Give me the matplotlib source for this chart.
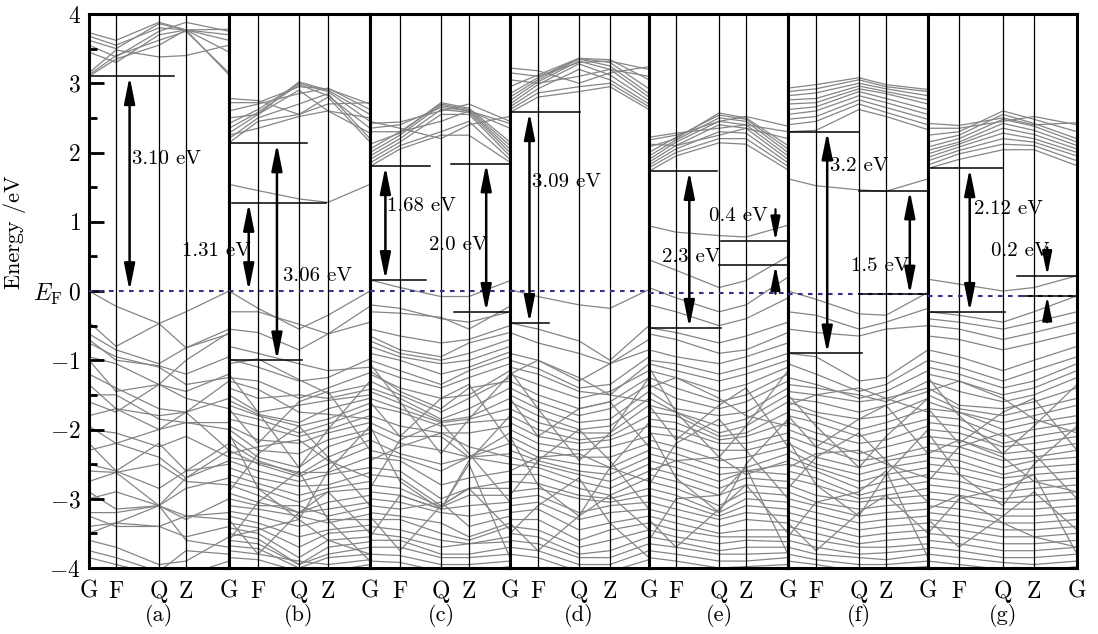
import matplotlib
matplotlib.use('Agg')

import matplotlib.pyplot as plt

plt.rcParams['font.family'] = ['cmr10', 'DejaVu Serif']
plt.rcParams['mathtext.fontset'] = 'cm'
plt.rcParams['axes.unicode_minus'] = False

# ---- data: band energies (eV) at G F Q Z G for each panel ----
panel_names = ['(a)', '(b)', '(c)', '(d)', '(e)', '(f)', '(g)']
kpoint_labels = ['G', 'F', 'Q', 'Z', 'G']
kpath = [
    [0, 0.193, 0.500, 0.693, 1],
    [0, 0.206, 0.496, 0.702, 1],
    [0, 0.214, 0.507, 0.707, 1],
    [0, 0.201, 0.496, 0.719, 1],
    [0, 0.194, 0.504, 0.698, 1],
    [0, 0.200, 0.507, 0.700, 1],
    [0, 0.208, 0.503, 0.711, 1],
]
fermi_level = [0.0, 0.0, 0.0, 0.0, -0.03, -0.05, -0.07]

bands_a = [
    [3.10, 3.35, 3.55, 3.77, 3.12], [3.12, 3.40, 3.62, 3.75, 3.15],
    [3.15, 3.48, 3.38, 3.40, 3.55], [3.62, 3.50, 3.86, 3.77, 3.62],
    [3.68, 3.55, 3.80, 3.77, 3.70], [3.73, 3.62, 3.88, 3.77, 3.78],
    [3.45, 3.30, 3.70, 3.77, 3.45], [3.55, 3.38, 3.75, 3.88, 3.75],
    [0.00, -0.22, -0.47, -0.30, 0.00], [-0.45, -0.80, -0.47, -0.82, -0.62],
    [-0.62, -0.85, -1.05, -0.82, -0.55], [-0.70, -1.00, -1.08, -1.20, -0.95],
    [-0.95, -1.05, -1.35, -1.00, -0.60], [-1.00, -1.45, -1.35, -1.45, -1.20],
    [-1.20, -1.40, -1.70, -1.75, -1.30], [-1.35, -1.70, -1.80, -1.75, -1.55],
    [-1.50, -1.50, -1.85, -1.90, -1.90], [-1.80, -1.70, -2.00, -1.75, -2.30],
    [-1.95, -2.20, -2.00, -1.90, -2.00], [-2.00, -2.05, -2.25, -2.10, -2.40],
    [-2.30, -2.20, -2.40, -2.70, -2.30], [-2.50, -2.60, -2.85, -2.60, -2.20],
    [-2.60, -2.62, -2.50, -2.75, -2.80], [-2.75, -2.62, -3.10, -2.70, -2.45],
    [-3.00, -2.90, -3.10, -3.30, -3.00], [-3.20, -3.20, -3.10, -3.25, -3.30],
    [-3.25, -3.40, -3.40, -3.55, -3.40], [-3.50, -3.35, -3.10, -3.60, -3.70],
    [-3.60, -3.70, -3.95, -3.90, -3.55], [-3.75, -3.85, -4.05, -3.75, -3.80],
    [-3.85, -3.95, -4.10, -4.10, -3.90], [-2.20, -2.60, -2.20, -2.60, -2.50],
    [-1.60, -1.75, -1.35, -1.55, -1.70], [-3.40, -3.35, -3.40, -3.25, -3.20],
    [-0.75, -0.95, -1.10, -1.35, -1.25], [-2.90, -3.15, -3.10, -2.85, -2.70],
]

bands_b = [
    [2.14, 2.45, 2.55, 2.80, 2.15], [2.20, 2.50, 2.70, 2.85, 2.20],
    [2.28, 2.55, 2.90, 2.60, 2.28], [2.35, 2.58, 2.98, 2.82, 2.35],
    [2.42, 2.62, 3.00, 2.88, 2.45], [2.50, 2.55, 3.02, 2.90, 2.55],
    [2.60, 2.70, 2.85, 2.93, 2.62], [2.72, 2.72, 2.95, 2.92, 2.70],
    [2.78, 2.75, 2.55, 2.70, 2.72], [2.25, 2.35, 2.52, 2.60, 2.50],
    [1.54, 1.45, 1.33, 1.28, 1.54],
    [0.00, -0.25, -0.55, -0.35, 0.00], [-0.30, -0.30, -0.48, -0.62, -0.22],
    [-0.55, -0.60, -0.85, -0.62, -0.45], [-0.80, -0.90, -1.05, -1.15, -1.10],
    [-0.98, -1.10, -1.30, -1.25, -0.98], [-1.05, -0.98, -1.28, -1.48, -1.35],
    [-1.25, -1.30, -1.55, -1.40, -1.18], [-1.30, -1.42, -1.75, -1.78, -1.85],
    [-1.40, -1.55, -1.50, -1.55, -1.42], [-1.50, -1.75, -1.65, -1.58, -1.50],
    [-1.58, -1.78, -1.90, -1.70, -1.55], [-1.65, -1.80, -1.95, -1.85, -1.62],
    [-1.75, -1.85, -2.05, -1.92, -1.70], [-1.85, -1.95, -2.10, -2.00, -1.80],
    [-1.95, -2.15, -2.20, -2.05, -1.90], [-2.00, -2.30, -2.35, -2.15, -2.00],
    [-2.10, -2.40, -2.55, -2.25, -2.05], [-2.20, -2.45, -2.65, -2.40, -2.15],
    [-2.30, -2.50, -2.68, -2.50, -2.25], [-2.35, -2.25, -2.15, -2.45, -2.70],
    [-2.40, -2.48, -2.62, -2.62, -2.40], [-2.45, -2.60, -2.75, -2.65, -2.55],
    [-2.55, -2.70, -2.82, -2.80, -2.62], [-2.65, -2.78, -2.95, -2.85, -2.75],
    [-2.75, -2.85, -3.05, -2.90, -2.85], [-2.80, -2.95, -3.20, -3.05, -2.95],
    [-2.92, -3.05, -3.20, -3.15, -3.05], [-3.00, -3.10, -3.10, -3.25, -3.12],
    [-3.10, -3.15, -3.25, -3.35, -3.22], [-3.18, -3.25, -3.40, -3.30, -3.30],
    [-3.25, -3.35, -3.55, -3.45, -3.38], [-3.35, -3.42, -3.70, -3.50, -3.45],
    [-3.42, -3.50, -3.85, -3.60, -3.55], [-3.50, -3.58, -3.95, -3.70, -3.62],
    [-3.55, -3.45, -3.30, -3.60, -3.80], [-3.60, -3.65, -3.95, -3.80, -3.70],
    [-3.68, -3.72, -4.00, -3.85, -3.80], [-3.75, -3.80, -3.90, -3.95, -3.88],
    [-3.85, -3.88, -4.05, -4.05, -3.95],
    [-1.20, -1.75, -2.55, -2.00, -1.30], [-2.90, -2.35, -1.95, -2.40, -3.10],
    [-3.60, -3.05, -2.60, -3.30, -3.90], [-2.05, -2.85, -3.30, -2.60, -1.95],
    [-1.70, -2.20, -1.60, -1.45, -2.30], [-3.30, -3.80, -3.20, -2.90, -3.50],
]

bands_c = [
    [1.80, 2.05, 2.25, 2.25, 1.86], [1.85, 2.10, 2.30, 2.45, 1.90],
    [1.90, 2.15, 2.55, 2.55, 1.95], [1.95, 2.20, 2.62, 2.58, 2.00],
    [2.00, 2.25, 2.68, 2.60, 2.05], [2.05, 2.30, 2.70, 2.62, 2.10],
    [2.12, 2.28, 2.72, 2.64, 2.15], [2.35, 2.40, 2.65, 2.60, 2.35],
    [2.42, 2.44, 2.60, 2.70, 2.45], [2.45, 2.35, 2.20, 2.40, 2.52],
    [2.30, 2.30, 2.45, 2.60, 2.42],
    [0.16, 0.05, -0.08, -0.08, 0.15], [-0.20, -0.25, -0.40, -0.45, -0.30],
    [-0.30, -0.32, -0.38, -0.55, -0.22], [-0.55, -0.65, -0.75, -0.70, -0.50],
    [-0.65, -0.85, -0.95, -0.75, -0.60], [-0.72, -0.90, -1.00, -0.90, -0.70],
    [-0.80, -0.95, -1.05, -1.00, -0.80], [-0.90, -1.00, -1.20, -1.10, -0.88],
    [-1.00, -1.15, -1.35, -1.15, -0.95], [-1.10, -1.25, -1.40, -1.25, -1.05],
    [-1.15, -1.45, -1.70, -1.40, -1.30], [-1.20, -1.40, -1.55, -1.50, -1.15],
    [-1.30, -1.50, -1.75, -1.55, -1.25], [-1.40, -1.55, -1.85, -1.70, -1.40],
    [-1.45, -1.62, -1.88, -1.82, -1.55], [-1.55, -1.70, -1.90, -1.85, -1.70],
    [-1.65, -1.75, -1.95, -1.90, -1.85], [-1.80, -1.95, -2.05, -2.05, -1.95],
    [-1.90, -2.10, -2.10, -2.40, -2.05], [-2.00, -2.20, -2.30, -2.40, -2.20],
    [-2.15, -2.35, -2.50, -2.40, -2.35], [-2.30, -2.40, -2.60, -2.40, -2.50],
    [-2.45, -2.25, -2.05, -2.25, -2.40], [-2.40, -2.45, -2.80, -2.70, -2.60],
    [-2.55, -2.60, -3.00, -2.85, -2.75], [-2.65, -2.70, -3.10, -2.85, -2.85],
    [-2.80, -2.85, -3.12, -2.95, -2.95], [-2.90, -2.95, -3.15, -3.10, -3.05],
    [-3.00, -3.05, -3.20, -3.25, -3.15], [-3.10, -3.15, -3.05, -3.40, -3.25],
    [-3.20, -3.25, -3.35, -3.55, -3.35], [-3.30, -3.30, -3.50, -3.60, -3.40],
    [-3.40, -3.45, -3.60, -3.65, -3.55], [-3.50, -3.55, -3.70, -3.65, -3.62],
    [-3.60, -3.60, -3.80, -3.80, -3.70], [-3.70, -3.70, -3.85, -3.85, -3.80],
    [-3.80, -3.82, -3.95, -3.95, -3.90], [-3.90, -3.92, -4.05, -4.05, -3.98],
    [-1.05, -1.60, -2.35, -1.85, -1.20], [-2.85, -2.15, -1.90, -2.35, -3.05],
    [-3.55, -2.95, -3.15, -2.50, -3.85], [-1.95, -2.75, -3.15, -2.45, -1.80],
    [-1.60, -2.10, -1.55, -1.35, -2.20], [-3.25, -3.75, -3.10, -2.85, -3.45],
]

bands_d = [
    [2.58, 2.80, 2.88, 2.95, 2.62], [2.62, 2.86, 2.95, 3.00, 2.66],
    [2.66, 2.92, 3.20, 3.05, 2.70], [2.70, 2.98, 3.28, 3.12, 2.75],
    [2.75, 3.02, 3.32, 3.20, 2.80], [2.80, 3.05, 3.35, 3.25, 2.85],
    [2.85, 3.08, 3.36, 3.30, 2.92], [2.95, 3.12, 3.36, 3.34, 3.05],
    [3.15, 3.10, 3.30, 3.32, 3.20], [3.22, 3.18, 3.00, 3.15, 3.24],
    [3.05, 3.00, 3.10, 3.20, 3.10],
    [0.02, -0.08, -0.20, -0.25, 0.02], [-0.46, -0.55, -0.72, -1.00, -0.50],
    [-0.60, -0.75, -0.90, -1.05, -0.70], [-0.90, -1.00, -1.30, -1.05, -0.85],
    [-1.00, -1.12, -1.40, -1.35, -0.95], [-1.10, -1.20, -1.45, -1.50, -1.05],
    [-1.20, -1.00, -1.25, -1.50, -1.60], [-1.20, -1.35, -1.55, -1.45, -1.15],
    [-1.30, -1.50, -1.70, -1.60, -1.25], [-1.40, -1.60, -1.80, -1.70, -1.35],
    [-1.50, -1.70, -1.90, -1.85, -1.45], [-1.60, -1.80, -2.00, -1.95, -1.55],
    [-1.70, -1.90, -2.05, -2.05, -1.65], [-1.80, -2.00, -2.15, -2.10, -1.80],
    [-1.90, -2.10, -2.20, -2.15, -1.95], [-2.00, -2.20, -2.30, -2.25, -2.10],
    [-2.10, -2.30, -2.40, -2.40, -2.20], [-2.20, -2.40, -2.50, -2.55, -2.30],
    [-2.30, -2.45, -2.60, -2.65, -2.40], [-2.40, -2.50, -2.65, -2.75, -2.50],
    [-2.50, -2.55, -2.75, -2.85, -2.60], [-2.60, -2.40, -2.35, -2.55, -2.75],
    [-2.65, -2.65, -2.85, -2.95, -2.70], [-2.75, -2.78, -2.95, -3.00, -2.85],
    [-2.90, -2.85, -3.00, -3.05, -2.95], [-3.00, -2.95, -3.20, -3.10, -3.05],
    [-3.10, -3.05, -3.30, -3.20, -3.15], [-3.20, -3.15, -3.45, -3.35, -3.25],
    [-3.30, -3.30, -3.60, -3.45, -3.35], [-3.40, -3.45, -3.70, -3.60, -3.45],
    [-3.50, -3.55, -3.80, -3.75, -3.55], [-3.60, -3.65, -3.85, -3.85, -3.65],
    [-3.70, -3.75, -3.95, -3.95, -3.75], [-3.80, -3.85, -4.05, -4.05, -3.88],
    [-1.15, -1.70, -2.45, -2.05, -1.25], [-2.95, -2.45, -2.00, -2.45, -3.15],
    [-3.50, -3.10, -2.70, -3.35, -3.85], [-2.10, -2.80, -3.25, -2.55, -1.90],
    [-1.55, -2.10, -1.70, -1.60, -2.25], [-3.35, -3.75, -3.25, -2.95, -3.45],
]

bands_e = [
    [1.73, 1.95, 2.14, 2.12, 1.75], [1.78, 2.00, 2.20, 2.20, 1.80],
    [1.82, 2.05, 2.30, 2.28, 1.85], [1.86, 2.10, 2.40, 2.35, 1.90],
    [1.90, 2.15, 2.45, 2.40, 1.95], [1.95, 2.18, 2.50, 2.45, 2.00],
    [2.00, 2.22, 2.54, 2.48, 2.05], [2.08, 2.20, 2.57, 2.50, 2.10],
    [2.18, 2.25, 2.45, 2.52, 2.38], [2.22, 2.28, 2.35, 2.40, 2.30],
    [2.12, 2.10, 2.25, 2.35, 2.20],
    [0.94, 0.85, 0.80, 0.78, 0.95], [0.45, 0.30, 0.05, 0.15, 0.50],
    [0.05, -0.10, -0.30, -0.20, 0.20], [-0.20, -0.30, -0.50, -0.40, -0.10],
    [-0.53, -0.60, -0.75, -0.65, -0.45], [-0.62, -0.70, -0.90, -0.85, -0.60],
    [-0.85, -0.95, -1.05, -0.95, -0.75], [-1.00, -1.05, -1.20, -1.10, -0.90],
    [-1.05, -1.15, -1.30, -1.20, -1.00], [-1.15, -1.25, -1.45, -1.35, -1.10],
    [-1.25, -1.40, -1.60, -1.50, -1.20], [-1.35, -1.55, -1.70, -1.60, -1.30],
    [-1.40, -1.25, -1.55, -1.80, -1.95], [-1.45, -1.70, -1.80, -1.75, -1.40],
    [-1.55, -1.75, -1.95, -1.85, -1.50], [-1.65, -1.75, -2.05, -1.95, -1.60],
    [-1.75, -1.80, -2.10, -2.05, -1.75], [-1.85, -1.90, -2.15, -2.10, -1.90],
    [-1.95, -2.00, -2.20, -2.20, -2.05], [-2.05, -2.10, -2.30, -2.30, -2.15],
    [-2.15, -2.25, -2.45, -2.40, -2.25], [-2.25, -2.35, -2.55, -2.55, -2.35],
    [-2.35, -2.45, -2.65, -2.60, -2.50], [-2.45, -2.55, -2.75, -2.60, -2.65],
    [-2.55, -2.65, -2.85, -2.70, -2.75], [-2.60, -2.45, -2.40, -2.65, -2.45],
    [-2.65, -2.75, -2.95, -2.80, -2.85], [-2.75, -2.85, -3.10, -2.90, -2.95],
    [-2.85, -2.95, -3.20, -3.00, -3.05], [-2.95, -3.05, -3.25, -3.10, -3.15],
    [-3.05, -3.15, -3.30, -3.20, -3.25], [-3.15, -3.25, -3.40, -3.30, -3.35],
    [-3.25, -3.35, -3.50, -3.45, -3.45], [-3.35, -3.45, -3.55, -3.55, -3.55],
    [-3.45, -3.55, -3.65, -3.60, -3.62], [-3.55, -3.62, -3.75, -3.70, -3.70],
    [-3.65, -3.70, -3.80, -3.80, -3.78], [-3.75, -3.80, -3.90, -3.90, -3.85],
    [-3.85, -3.90, -4.00, -3.98, -3.95],
    [-1.10, -1.75, -2.40, -1.95, -1.15], [-2.80, -2.20, -1.85, -2.30, -3.00],
    [-3.60, -3.00, -2.95, -2.55, -3.80], [-2.00, -2.70, -3.20, -2.50, -1.85],
    [-1.65, -2.15, -1.65, -1.40, -2.25], [-3.30, -3.70, -3.15, -2.80, -3.50],
]

bands_f = [
    [2.30, 2.32, 2.62, 2.52, 2.33], [2.40, 2.45, 2.70, 2.58, 2.40],
    [2.48, 2.52, 2.76, 2.65, 2.48], [2.55, 2.60, 2.82, 2.72, 2.55],
    [2.62, 2.66, 2.88, 2.78, 2.62], [2.70, 2.72, 2.92, 2.85, 2.70],
    [2.76, 2.78, 2.96, 2.88, 2.76], [2.82, 2.86, 3.00, 2.92, 2.82],
    [2.88, 2.92, 3.05, 2.95, 2.88], [2.93, 2.98, 3.08, 2.98, 2.91],
    [1.62, 1.52, 1.46, 1.44, 1.62],
    [0.00, -0.12, -0.33, -0.35, -0.02], [-0.30, -0.35, -0.55, -0.45, -0.25],
    [-0.55, -0.60, -0.65, -0.55, -0.50], [-0.90, -0.95, -1.30, -1.25, -0.85],
    [-1.05, -1.20, -1.45, -1.35, -1.00], [-1.25, -1.35, -1.55, -1.45, -1.15],
    [-1.35, -1.40, -1.50, -1.60, -1.30], [-1.45, -1.50, -1.60, -1.55, -1.40],
    [-1.55, -1.60, -1.75, -1.65, -1.45], [-1.60, -1.75, -1.85, -1.80, -1.55],
    [-1.65, -1.50, -1.40, -1.55, -1.75], [-1.70, -1.80, -2.00, -1.90, -1.70],
    [-1.80, -1.90, -2.10, -2.00, -1.85], [-1.90, -2.05, -2.20, -2.15, -1.95],
    [-2.00, -2.15, -2.35, -2.25, -2.10], [-2.10, -2.25, -2.45, -2.40, -2.25],
    [-2.20, -2.40, -2.55, -2.45, -2.35], [-2.30, -2.50, -2.65, -2.55, -2.45],
    [-2.40, -2.55, -2.75, -2.65, -2.55], [-2.50, -2.60, -2.85, -2.75, -2.65],
    [-2.55, -2.35, -2.30, -2.50, -2.70], [-2.60, -2.70, -2.95, -2.85, -2.75],
    [-2.70, -2.80, -3.00, -2.95, -2.85], [-2.80, -2.95, -3.05, -3.00, -2.95],
    [-2.90, -3.05, -3.15, -3.10, -3.05], [-3.00, -3.10, -3.25, -3.20, -3.15],
    [-3.10, -3.20, -3.35, -3.30, -3.25], [-3.20, -3.30, -3.45, -3.40, -3.35],
    [-3.30, -3.40, -3.55, -3.50, -3.45], [-3.40, -3.50, -3.65, -3.60, -3.55],
    [-3.50, -3.60, -3.70, -3.70, -3.65], [-3.60, -3.70, -3.80, -3.78, -3.72],
    [-3.70, -3.80, -3.85, -3.88, -3.80], [-3.80, -3.88, -3.95, -3.95, -3.90],
    [-3.90, -3.95, -4.05, -4.02, -3.98],
    [-1.50, -1.95, -2.55, -2.10, -1.55], [-2.85, -2.40, -2.05, -2.45, -3.05],
    [-3.55, -3.05, -2.90, -2.60, -3.85], [-2.15, -2.80, -3.25, -2.65, -2.00],
    [-1.80, -2.25, -1.85, -1.65, -2.35], [-3.35, -3.75, -3.20, -2.95, -3.50],
]

bands_g = [
    [1.77, 1.90, 2.04, 2.04, 1.81], [1.82, 1.98, 2.12, 2.10, 1.88],
    [1.88, 2.03, 2.20, 2.15, 1.95], [1.93, 2.08, 2.28, 2.20, 2.00],
    [1.98, 2.12, 2.35, 2.26, 2.05], [2.03, 2.15, 2.42, 2.32, 2.10],
    [2.08, 2.20, 2.48, 2.38, 2.15], [2.15, 2.25, 2.55, 2.42, 2.20],
    [2.25, 2.30, 2.60, 2.48, 2.30], [2.35, 2.35, 2.45, 2.52, 2.40],
    [2.42, 2.39, 2.50, 2.40, 2.43],
    [0.17, 0.10, 0.00, 0.05, 0.22],
    [-0.30, -0.35, -0.45, -0.30, -0.07], [-0.40, -0.45, -0.55, -0.45, -0.30],
    [-0.50, -0.55, -0.70, -0.60, -0.45], [-0.65, -0.70, -0.85, -0.75, -0.60],
    [-0.85, -0.95, -1.15, -1.00, -0.80], [-1.00, -1.10, -1.30, -1.15, -0.95],
    [-1.10, -1.20, -1.40, -1.30, -1.05], [-1.20, -1.30, -1.50, -1.40, -1.15],
    [-1.30, -1.45, -1.60, -1.50, -1.25], [-1.40, -1.65, -1.70, -1.60, -1.40],
    [-1.45, -1.30, -1.55, -1.85, -2.05], [-1.50, -1.70, -1.80, -1.70, -1.55],
    [-1.60, -1.75, -1.90, -1.80, -1.65], [-1.70, -1.75, -2.00, -1.90, -1.80],
    [-1.80, -1.85, -2.10, -2.00, -1.90], [-1.90, -1.95, -2.20, -2.10, -2.00],
    [-2.00, -2.05, -2.25, -2.20, -2.10], [-2.10, -2.15, -2.35, -2.30, -2.20],
    [-2.20, -2.25, -2.45, -2.40, -2.30], [-2.30, -2.35, -2.55, -2.45, -2.40],
    [-2.35, -2.15, -2.40, -2.75, -2.90], [-2.40, -2.45, -2.65, -2.55, -2.50],
    [-2.50, -2.55, -2.70, -2.65, -2.60], [-2.60, -2.65, -2.80, -2.75, -2.70],
    [-2.70, -2.75, -2.90, -2.85, -2.80], [-2.80, -2.85, -3.00, -2.95, -2.90],
    [-2.90, -2.95, -3.05, -3.05, -3.00], [-3.00, -3.05, -3.15, -3.15, -3.10],
    [-3.10, -3.15, -3.25, -3.25, -3.20], [-3.15, -2.95, -3.35, -3.55, -3.70],
    [-3.20, -3.25, -3.35, -3.35, -3.30], [-3.30, -3.35, -3.45, -3.45, -3.40],
    [-3.40, -3.45, -3.55, -3.55, -3.50], [-3.50, -3.55, -3.65, -3.65, -3.60],
    [-3.60, -3.65, -3.75, -3.75, -3.70], [-3.70, -3.75, -3.85, -3.85, -3.80],
    [-3.80, -3.85, -3.92, -3.95, -3.90], [-3.90, -3.95, -4.02, -4.05, -3.98],
    [-1.25, -1.80, -2.35, -1.95, -1.35], [-2.75, -2.25, -2.05, -2.35, -3.00],
    [-3.50, -3.00, -2.85, -2.65, -3.80], [-2.05, -2.65, -3.10, -2.50, -1.95],
    [-1.70, -2.20, -1.75, -1.55, -2.30], [-3.30, -3.70, -3.25, -2.90, -3.45],
]

all_bands = [bands_a, bands_b, bands_c, bands_d, bands_e, bands_f, bands_g]

# gap markers: horizontal lines (x0, x1, E), double arrows (x, E_top, E_bottom),
# single arrows (x, E_from, E_to) and labels (x, E, text), x as fraction of panel
gap_lines = [
    [(0, 0.61, 3.10)],
    [(0, 0.55, 2.13), (0.02, 0.69, 1.27), (0, 0.52, -1.00)],
    [(0, 0.43, 1.80), (0, 0.40, 0.16), (0.58, 1.03, 1.84), (0.60, 1.0, -0.30)],
    [(0, 0.50, 2.58), (0, 0.28, -0.46)],
    [(0, 0.49, 1.73), (0, 0.52, -0.53), (0.52, 1.0, 0.72), (0.50, 1.0, 0.37)],
    [(0, 0.51, 2.30), (0, 0.53, -0.90), (0.51, 1.0, 1.45), (0.51, 1.0, -0.05)],
    [(0, 0.50, 1.77), (0, 0.52, -0.30), (0.60, 1.0, 0.22), (0.64, 0.99, -0.07)],
]
gap_arrows = [
    [(0.29, 3.10, 0.0)],
    [(0.14, 1.27, 0.0), (0.34, 2.13, -1.00)],
    [(0.11, 1.80, 0.16), (0.83, 1.84, -0.30)],
    [(0.14, 2.58, -0.46)],
    [(0.29, 1.73, -0.53)],
    [(0.28, 2.30, -0.90), (0.87, 1.45, -0.05)],
    [(0.28, 1.77, -0.30)],
]
gap_pointers = [
    [], [], [], [],
    [(0.91, 1.18, 0.72), (0.91, -0.04, 0.37)],
    [],
    [(0.80, 0.63, 0.22), (0.80, -0.45, -0.07)],
]
gap_labels = [
    [(0.31, 1.90, '3.10 eV')],
    [(-0.33, 0.58, '1.31 eV'), (0.38, 0.21, '3.06 eV')],
    [(0.12, 1.22, '1.68 eV'), (0.42, 0.66, '2.0 eV')],
    [(0.16, 1.57, '3.09 eV')],
    [(0.09, 0.49, '2.3 eV'), (0.43, 1.08, '0.4 eV')],
    [(0.30, 1.80, '3.2 eV'), (0.45, 0.36, '1.5 eV')],
    [(0.31, 1.18, '2.12 eV'), (0.42, 0.58, '0.2 eV')],
]

# ---- figure ----
W, H = 1098, 634
fig = plt.figure(figsize=(W / 100, H / 100), dpi=100)

edges = [89, 229, 370, 510, 649, 788, 928, 1077]
top, bottom = 14, 568

dbl = '<|-|>,head_length=0.8,head_width=0.16'
sgl = '-|>,head_length=0.8,head_width=0.16'

for i in range(7):
    x0, x1 = edges[i], edges[i + 1]
    ax = fig.add_axes([x0 / W, 1 - bottom / H, (x1 - x0) / W, (bottom - top) / H])
    kp = kpath[i]
    for band in all_bands[i]:
        ax.plot(kp, band, color='#858585', lw=0.9, zorder=1)
    for xv in kp[1:4]:
        ax.axvline(xv, color='k', lw=0.9, zorder=2)
    ax.axhline(fermi_level[i], color='#33338a', lw=1.5, ls=(0, (2.2, 2.6)), zorder=3)

    for xa, xb, e in gap_lines[i]:
        ax.plot([xa, xb], [e, e], color='k', lw=1.1, zorder=4, clip_on=False)
    for xa, e0, e1 in gap_arrows[i]:
        ax.annotate('', xy=(xa, e1), xytext=(xa, e0),
                    arrowprops=dict(arrowstyle=dbl, color='k', lw=1.8,
                                    shrinkA=0, shrinkB=0, mutation_scale=20),
                    zorder=5)
    for xa, e0, e1 in gap_pointers[i]:
        ax.annotate('', xy=(xa, e1), xytext=(xa, e0),
                    arrowprops=dict(arrowstyle=sgl, color='k', lw=1.6,
                                    shrinkA=0, shrinkB=0, mutation_scale=18),
                    zorder=5)
    for xa, e, s in gap_labels[i]:
        ax.text(xa, e, s, fontsize=15, ha='left', va='center', zorder=6,
                clip_on=False)

    ax.set_xlim(0, 1)
    ax.set_ylim(-4, 4)
    for sp in ax.spines.values():
        sp.set_linewidth(2.2)

    if i < 6:
        ax.set_xticks(kp[:4])
        ax.set_xticklabels(kpoint_labels[:4])
    else:
        ax.set_xticks(kp)
        ax.set_xticklabels(kpoint_labels)
    ax.tick_params(axis='x', length=0, pad=9)
    for lab in ax.get_xticklabels():
        lab.set_fontsize(17)

    ax.text(kp[2], -4.68, panel_names[i], fontsize=16, ha='center', va='center')

    if i == 0:
        ax.set_yticks(range(-4, 5))
        ax.set_yticklabels(['$-4$', '$-3$', '$-2$', '$-1$', '$0$',
                            '$1$', '$2$', '$3$', '$4$'])
        ax.set_yticks([-3.5, -2.5, -1.5, -0.5, 0.5, 1.5, 2.5, 3.5], minor=True)
        ax.tick_params(axis='y', which='major', direction='in', length=11,
                       width=2, pad=6, labelsize=17)
        ax.tick_params(axis='y', which='minor', direction='in', length=6, width=2)
    else:
        ax.set_yticks([])

fig.text(48 / W, 1 - 294 / H, r'$E_{\rm F}$', fontsize=17, ha='center', va='center')
fig.text(15 / W, 1 - 232 / H, 'Energy /eV', rotation=90, fontsize=16,
         ha='center', va='center')

fig.savefig('out.png', dpi=100)
